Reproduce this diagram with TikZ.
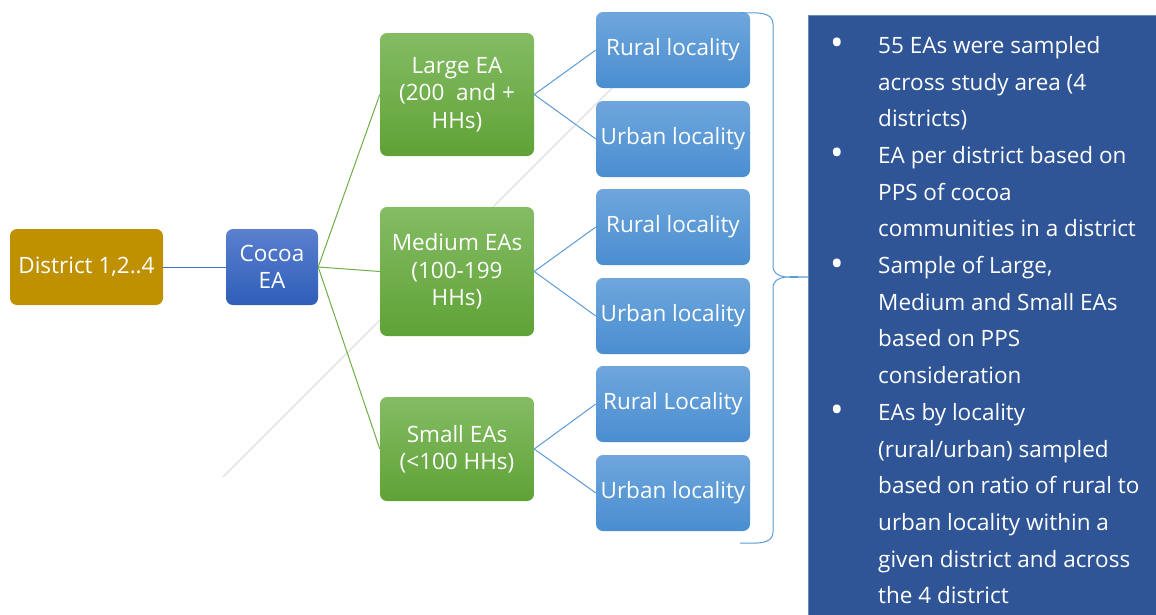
\documentclass[tikz,border=0pt]{standalone}
\usepackage{fontspec}
\setmainfont{Open Sans}
\definecolor{gold}{HTML}{BF9000}
\definecolor{cocoatop}{HTML}{5A80CF}
\definecolor{cocoabot}{HTML}{2F5EB8}
\definecolor{greentop}{HTML}{84BC64}
\definecolor{greenbot}{HTML}{5FA236}
\definecolor{loctop}{HTML}{6EA6DC}
\definecolor{locbot}{HTML}{4A8ED0}
\definecolor{panel}{HTML}{2F5597}
\definecolor{panelborder}{HTML}{6D89B5}
\definecolor{linkblue}{HTML}{4472C4}
\definecolor{linkgreen}{HTML}{70AD47}
\definecolor{linklight}{HTML}{5B9BD5}
\tikzset{
  box/.style={rounded corners=7pt, text=white, align=center, inner sep=1pt,
    font=\fontsize{22.5}{27.5}\selectfont},
  districtbox/.style={box, fill=gold, minimum width=153pt, minimum height=76pt},
  cocoabox/.style={box, top color=cocoatop, bottom color=cocoabot, minimum width=92pt, minimum height=76pt},
  sizebox/.style={box, top color=greentop, bottom color=greenbot, minimum width=154pt},
  locbox/.style={box, top color=loctop, bottom color=locbot, minimum width=154pt, minimum height=76pt},
  lnk/.style={line width=1pt},
}
\newcommand{\bul}{\makebox[49pt][l]{\hspace*{1pt}\raisebox{-2.5pt}{\scalebox{1.6}{\textbullet}}}}
\newcommand{\ind}{\hspace*{49pt}}
\begin{document}
\begin{tikzpicture}[x=1pt,y=-1pt]
\useasboundingbox (0,0) rectangle (1156,614);
% faint artifact line
\draw[black!12, line width=1.2pt] (223,477) -- (613,87);
% nodes
\node[districtbox] (dist) at (86.5,267) {District 1,2..4};
\node[cocoabox] (cocoa) at (272,267) {Cocoa\\EA};
\node[sizebox, minimum height=123pt] (large) at (457,94.5) {Large EA\\(200~ and +\\HHs)};
\node[sizebox, minimum height=129pt] (medium) at (457,271.5) {Medium EAs\\(100-199\\HHs)};
\node[sizebox, minimum height=104pt] (small) at (457,449) {Small EAs\\(<100 HHs)};
\node[locbox] (r1) at (673,50) {Rural locality};
\node[locbox] (u1) at (673,139) {Urban locality};
\node[locbox] (r2) at (673,227) {Rural locality};
\node[locbox] (u2) at (673,316) {Urban locality};
\node[locbox] (r3) at (673,404) {Rural Locality};
\node[locbox] (u3) at (673,493) {Urban locality};
% connectors
\draw[lnk, linkblue] (dist.east) -- (cocoa.west);
\draw[lnk, linkgreen] (cocoa.east) -- (large.west);
\draw[lnk, linkgreen] (cocoa.east) -- (medium.west);
\draw[lnk, linkgreen] (cocoa.east) -- (small.west);
\foreach \p/\a/\b in {large/r1/u1, medium/r2/u2, small/r3/u3}{
  \draw[lnk, linklight] (\a.west) -- (\p.east) -- (\b.west);
}
% panel
\fill[panel] (808,15) rectangle (1170,630);
\draw[panelborder, line width=1pt] (808.5,630) -- (808.5,15.5) -- (1170,15.5);
% brace
\coordinate (bt) at (740,13);
\coordinate (btip) at (808,277);
\coordinate (bb) at (740,543);
\draw[lnk, linklight] (bt) to[out=0,in=90] (773,24) -- (773,266)
  to[out=-90,in=180] (btip) to[out=180,in=90] (773,288) -- (773,532)
  to[out=-90,in=0] (bb);
% panel text
\node[anchor=north west, align=left, text=white, inner sep=0pt,
  font=\fontsize{22.5}{36.7}\selectfont] (ptext) at (829,36) {%
\bul 55 EAs were sampled\\
\ind across study area (4\\
\ind districts)\\
\bul EA per district based on\\
\ind PPS of cocoa\\
\ind communities in a district\\
\bul Sample of Large,\\
\ind Medium and Small EAs\\
\ind based on PPS\\
\ind consideration\\
\bul EAs by locality\\
\ind (rural/urban) sampled\\
\ind based on ratio of rural to\\
\ind urban locality within a\\
\ind given district and across\\
\ind the 4 district};
\end{tikzpicture}
\end{document}
